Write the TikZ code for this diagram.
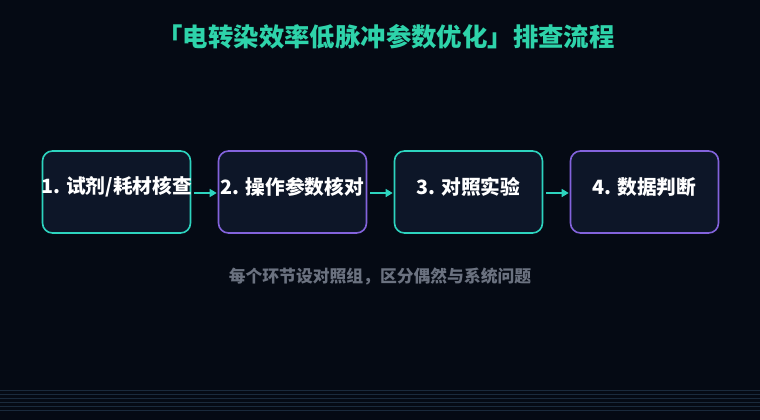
\documentclass[tikz,border=0pt]{standalone}
\usepackage{fontspec}
\setmainfont{Noto Sans CJK SC}
\usetikzlibrary{arrows.meta}
\definecolor{bg}{HTML}{050A14}
\definecolor{boxfill}{HTML}{0D1628}
\definecolor{teal}{HTML}{2DD4BF}
\definecolor{titleteal}{HTML}{2ED3AA}
\definecolor{purp}{HTML}{8363DC}
\definecolor{subgray}{HTML}{6B7280}
\definecolor{stripe}{HTML}{1A2A3C}
\tikzset{
  stepbox/.style={draw=#1, line width=1.6pt, fill=boxfill, rounded corners=10pt,
    minimum width=148pt, minimum height=82pt, inner sep=0pt},
  steptext/.style={text=white, font=\fontsize{19.7}{22}\selectfont\bfseries, inner sep=0pt},
  flow/.style={draw=teal, line width=1.6pt, -{Triangle[length=7pt,width=8pt]}},
}
\begin{document}
\begin{tikzpicture}[x=1pt,y=-1pt]
\fill[bg] (0,0) rectangle (760,420);
\useasboundingbox (0,0) rectangle (760,420);
\foreach \yy in {390,394,398,402,406,410}
  \draw[stripe, line width=0.5pt] (0,\yy) -- (760,\yy);
\node[text=titleteal, font=\fontsize{25.4}{28}\selectfont\bfseries] (title) at (386,37) {「电转染效率低脉冲参数优化」排查流程};
\node[stepbox=teal] (b1) at (116.5,192) {};
\node[stepbox=purp] (b2) at (292.5,192) {};
\node[stepbox=teal] (b3) at (468.5,192) {};
\node[stepbox=purp] (b4) at (644.5,192) {};
\node[steptext] (t1) at (116.5,187) {1. 试剂/耗材核查};
\node[steptext] (t2) at (292.5,187) {2. 操作参数核对};
\node[steptext] (t3) at (468.5,187) {3. 对照实验};
\node[steptext] (t4) at (644.5,187) {4. 数据判断};
\draw[flow] ([xshift=3pt,yshift=-1pt]b1.east) -- ([xshift=-1pt,yshift=-1pt]b2.west);
\draw[flow] ([xshift=3pt,yshift=-1pt]b2.east) -- ([xshift=-1pt,yshift=-1pt]b3.west);
\draw[flow] ([xshift=3pt,yshift=-1pt]b3.east) -- ([xshift=-1pt,yshift=-1pt]b4.west);
\node[text=subgray, font=\fontsize{16.8}{20}\selectfont\bfseries] (sub) at (380,277) {每个环节设对照组，区分偶然与系统问题};
\end{tikzpicture}
\end{document}
